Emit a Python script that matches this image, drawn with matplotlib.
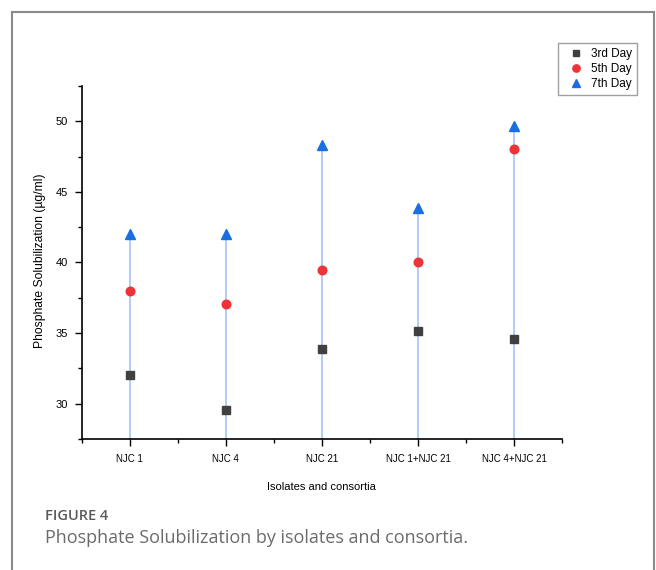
import matplotlib
matplotlib.use("Agg")
import matplotlib.pyplot as plt
from matplotlib.patches import Rectangle

# data
isolates = ["NJC 1", "NJC 4", "NJC 21", "NJC 1+NJC 21", "NJC 4+NJC 21"]
day3 = [32.0, 29.57, 33.9, 35.18, 34.55]
day5 = [38.0, 37.07, 39.48, 40.0, 48.0]
day7 = [42.0, 42.0, 48.35, 43.85, 49.65]

plt.rcParams['font.family'] = ['Liberation Sans', 'DejaVu Sans']

fig = plt.figure(figsize=(6.56, 5.70), dpi=100)
ax = fig.add_axes([0.1245, 0.2298, 0.7325, 0.6195])

x = list(range(len(isolates)))
ymin, ymax = 27.5, 52.5

# drop lines from axis up to the 7th day value
ax.vlines(x, ymin, day7, color="#a9c9f2", lw=1.3, zorder=1)

ax.plot(x, day3, "s", color="#404040", ms=5.3, ls="none", label="3rd Day", zorder=3)
ax.plot(x, day5, "o", color="#ee3338", ms=6.2, ls="none", label="5th Day", zorder=3)
ax.plot(x, day7, "^", color="#1a6ee0", ms=7, ls="none", label="7th Day", zorder=3)

ax.set_xlim(-0.5, 4.5)
ax.set_ylim(ymin, ymax)
ax.set_xticks(x)
ax.set_xticklabels(isolates, fontsize=7)
ax.set_xticks([-0.5, 0.5, 1.5, 2.5, 3.5, 4.5], minor=True)
ax.set_yticks([30, 35, 40, 45, 50])
ax.set_yticks([27.5, 32.5, 37.5, 42.5, 47.5, 52.5], minor=True)
ax.tick_params(axis="both", which="major", length=5, width=1, pad=6)
ax.tick_params(axis="x", labelsize=7)
ax.tick_params(axis="y", labelsize=8, pad=5)
ax.tick_params(axis="both", which="minor", length=3, width=1)

for s in ["top", "right"]:
    ax.spines[s].set_visible(False)
for s in ["left", "bottom"]:
    ax.spines[s].set_linewidth(1.2)

ax.set_xlabel("Isolates and consortia", fontsize=8, labelpad=13)
fig.text(40 / 656, 1 - 261 / 570, "Phosphate Solubilization (µg/ml)", fontsize=8.7,
         rotation=90, ha="center", va="center")

fig.legend(loc="upper right", bbox_to_anchor=(637 / 656, 1 - 43 / 570), fontsize=8.5,
           frameon=True, fancybox=False, edgecolor="#888888", borderaxespad=0,
           handletextpad=0.2, labelspacing=0.28, borderpad=0.4, handlelength=2.2,
           markerscale=0.85)

# outer page frame
fig.patches.append(Rectangle((12 / 656, -0.05), 642 / 656, 1.05 - 12 / 570,
                             transform=fig.transFigure, fill=False,
                             edgecolor="#8a8a8a", lw=1.5))

fig.text(45 / 656, 1 - 516 / 570, "FIGURE 4", fontsize=10.5, color="#5a5a5a",
         family="Open Sans", fontweight="semibold", va="center", ha="left")
fig.text(45 / 656, 1 - 538 / 570, "Phosphate Solubilization by isolates and consortia.",
         fontsize=13, color="#6b6b6b", family="Open Sans", va="center", ha="left")

fig.savefig("out.png", dpi=100)
